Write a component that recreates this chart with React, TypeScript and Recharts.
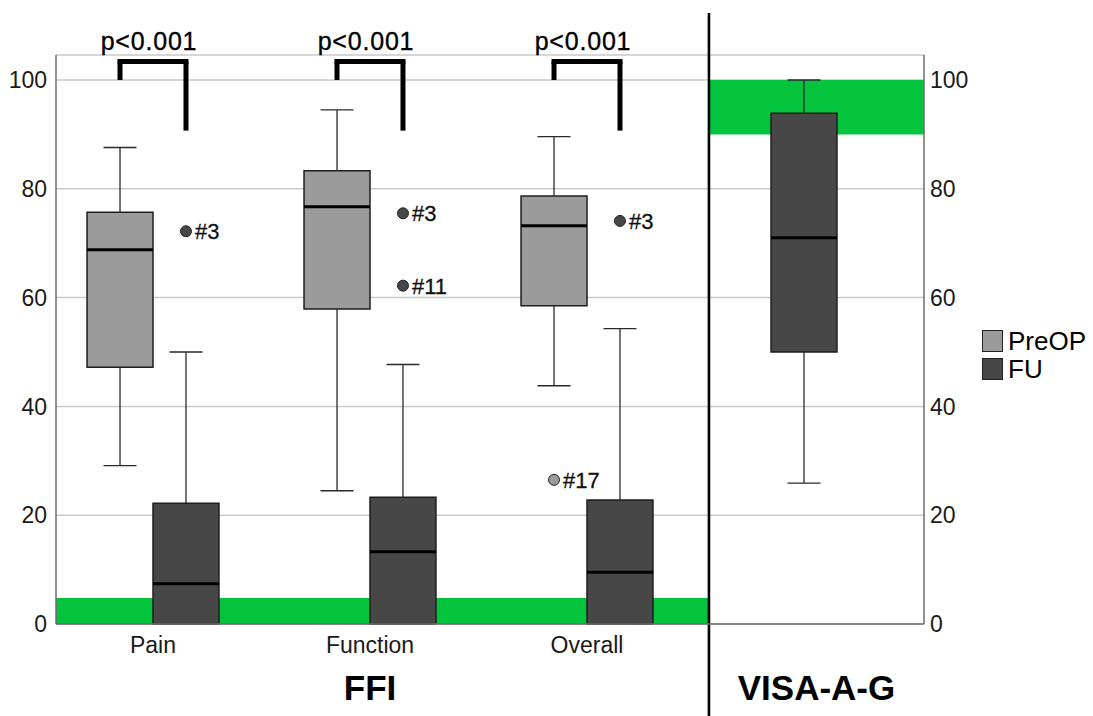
import React from 'react';
import {
  ComposedChart,
  XAxis,
  YAxis,
  CartesianGrid,
  ReferenceArea,
  ReferenceLine,
  ReferenceDot,
  Scatter,
} from 'recharts';

// ---------------- data ----------------
const categories = ['Pain', 'Function', 'Overall', 'VISA-A-G'];
const tickLabels = ['Pain', 'Function', 'Overall', ''];
const panelTitles = ['FFI', 'VISA-A-G'];
const seriesNames = ['PreOP', 'FU'];

// PreOP box statistics (no PreOP box for VISA-A-G)
const preMin = [29.1, 24.5, 43.8, null];
const preQ1 = [47.2, 57.9, 58.5, null];
const preMedian = [68.8, 76.7, 73.2, null];
const preQ3 = [75.7, 83.3, 78.7, null];
const preMax = [87.6, 94.5, 89.6, null];

// FU box statistics
const fuMin = [0, 0, 0, 25.9];
const fuQ1 = [0, 0, 0, 50.0];
const fuMedian = [7.4, 13.3, 9.5, 71.0];
const fuQ3 = [22.2, 23.3, 22.8, 93.9];
const fuMax = [50.0, 47.7, 54.3, 100];

// outliers
const outlierCategory = ['Pain', 'Function', 'Function', 'Overall', 'Overall'];
const outlierSeries = ['FU', 'FU', 'FU', 'FU', 'PreOP'];
const outlierValue = [72.2, 75.5, 62.2, 74.1, 26.5];
const outlierLabel = ['#3', '#3', '#11', '#3', '#17'];

// significance annotations (FFI categories)
const pCategories = ['Pain', 'Function', 'Overall'];
const pValues = ['p<0.001', 'p<0.001', 'p<0.001'];

// reference (green) ranges
const ffiRange = [0, 4.8];
const visaRange = [90, 100];

const yTicks = [0, 20, 40, 60, 80, 100];

// ---------------- layout / style ----------------
const FONT = '"Liberation Sans", Arial, Helvetica, sans-serif';
const X_DOMAIN: [number, number] = [0.553, 4.553];
const Y_DOMAIN: [number, number] = [0, 104.6];
const PANEL_SPLIT = 3.562;
const HALF = 0.152; // half box width in x units
const PRE_FILL = '#9b9b9b';
const FU_FILL = '#474747';
const GREEN = '#03c43c';
const EDGE = '#1e1e1e';
const BRACKET_TOP = 103.4;
const BRACKET_LEFT_BOTTOM = 100;
const BRACKET_RIGHT_BOTTOM = 90.7;
const P_TEXT_Y = 105.6;
const TITLE_Y = -13.9;

function catX(cat: string) {
  return categories.indexOf(cat) + 1;
}
function seriesX(cat: string, series: string) {
  const i = categories.indexOf(cat);
  const x = i + 1;
  const hasPre = preMedian[i] != null;
  if (!hasPre) return x;
  return series === 'PreOP' ? x - HALF : x + HALF;
}

function whiskers(key: string, cx: number, min: number, q1: number, q3: number, max: number) {
  const els: any[] = [];
  const ws = { stroke: '#2a2a2a', strokeWidth: 1.3 };
  if (max > q3) {
    els.push(<ReferenceLine key={key + 'wu'} segment={[{ x: cx, y: q3 }, { x: cx, y: max }]} {...ws} />);
    els.push(<ReferenceLine key={key + 'cu'} segment={[{ x: cx - HALF / 2, y: max }, { x: cx + HALF / 2, y: max }]} {...ws} />);
  }
  if (q1 > min) {
    els.push(<ReferenceLine key={key + 'wl'} segment={[{ x: cx, y: min }, { x: cx, y: q1 }]} {...ws} />);
    els.push(<ReferenceLine key={key + 'cl'} segment={[{ x: cx - HALF / 2, y: min }, { x: cx + HALF / 2, y: min }]} {...ws} />);
  }
  return els;
}

function boxRect(key: string, cx: number, q1: number, q3: number, fill: string) {
  return (
    <ReferenceArea
      key={key + 'box'}
      x1={cx - HALF}
      x2={cx + HALF}
      y1={q1}
      y2={q3}
      fill={fill}
      fillOpacity={1}
      stroke={EDGE}
      strokeWidth={1.5}
    />
  );
}

function medianLine(key: string, cx: number, med: number) {
  return (
    <ReferenceLine
      key={key + 'med'}
      segment={[{ x: cx - HALF, y: med }, { x: cx + HALF, y: med }]}
      stroke="#000"
      strokeWidth={3}
    />
  );
}

const outlierData = outlierCategory.map((c, i) => ({
  x: seriesX(c, outlierSeries[i]),
  y: outlierValue[i],
  label: outlierLabel[i],
  series: outlierSeries[i],
}));

const OutlierShape = (props: any) => {
  const { cx, cy, payload } = props;
  const fill = payload.series === 'PreOP' ? PRE_FILL : FU_FILL;
  return (
    <g>
      <circle cx={cx} cy={cy} r={5.5} fill={fill} stroke="#222" strokeWidth={1} />
      <text x={cx + 9} y={cy} dy="0.36em" fontSize={22} fontFamily={FONT} fill="#111" stroke="#111" strokeWidth={0.3}>
        {payload.label}
      </text>
    </g>
  );
};

export default function App() {
  const whiskerEls: any[] = [];
  const boxEls: any[] = [];
  const medianEls: any[] = [];
  categories.forEach((cat, i) => {
    if (preMedian[i] != null) {
      const cx = seriesX(cat, 'PreOP');
      whiskerEls.push(...whiskers('pre' + i, cx, preMin[i] as number, preQ1[i] as number, preQ3[i] as number, preMax[i] as number));
      boxEls.push(boxRect('pre' + i, cx, preQ1[i] as number, preQ3[i] as number, PRE_FILL));
      medianEls.push(medianLine('pre' + i, cx, preMedian[i] as number));
    }
    const fx = seriesX(cat, 'FU');
    whiskerEls.push(...whiskers('fu' + i, fx, fuMin[i], fuQ1[i], fuQ3[i], fuMax[i]));
    boxEls.push(boxRect('fu' + i, fx, fuQ1[i], fuQ3[i], FU_FILL));
    medianEls.push(medianLine('fu' + i, fx, fuMedian[i]));
  });

  const bracketEls: any[] = [];
  pCategories.forEach((cat, i) => {
    const lx = seriesX(cat, 'PreOP');
    const rx = seriesX(cat, 'FU');
    const bs = { stroke: '#000', strokeWidth: 5 };
    bracketEls.push(<ReferenceLine key={'bl' + i} segment={[{ x: lx, y: BRACKET_LEFT_BOTTOM }, { x: lx, y: BRACKET_TOP }]} {...bs} />);
    bracketEls.push(<ReferenceLine key={'br' + i} segment={[{ x: rx, y: BRACKET_RIGHT_BOTTOM }, { x: rx, y: BRACKET_TOP }]} {...bs} />);
    bracketEls.push(
      <ReferenceLine key={'bt' + i} segment={[{ x: lx, y: BRACKET_TOP }, { x: rx, y: BRACKET_TOP }]} {...bs} strokeLinecap="square" />
    );
    bracketEls.push(
      <ReferenceDot
        key={'pt' + i}
        x={catX(cat)}
        y={P_TEXT_Y}
        r={0}
        ifOverflow="visible"
        shape={(p: any) => (
          <text x={p.cx - 4} y={p.cy} textAnchor="middle" fontSize={25} letterSpacing={0.8} fontFamily={FONT} fill="#000" stroke="#000" strokeWidth={0.35}>
            {pValues[i]}
          </text>
        )}
      />
    );
  });

  const panelCenters = [2, (PANEL_SPLIT + X_DOMAIN[1]) / 2];
  const titleEls = panelTitles.map((t, i) => (
    <ReferenceDot
      key={'title' + i}
      x={panelCenters[i]}
      y={TITLE_Y}
      r={0}
      ifOverflow="visible"
      shape={(p: any) => (
        <text x={p.cx} y={p.cy} textAnchor="middle" fontSize={35} fontWeight="bold" fontFamily={FONT} fill="#000">
          {t}
        </text>
      )}
    />
  ));

  return (
    <div style={{ position: 'absolute', left: 0, top: 0, width: 1093, height: 716, background: '#fff', fontFamily: FONT }}>
      <ComposedChart width={1093} height={716} margin={{ top: 55, right: 109, bottom: 0, left: 0 }}>
        <CartesianGrid vertical={false} stroke="#c9c9c9" strokeWidth={1.5} />
        <XAxis
          xAxisId={0}
          type="number"
          dataKey="x"
          domain={X_DOMAIN}
          allowDataOverflow
          ticks={[1, 2, 3]}
          interval={0}
          tickFormatter={(v: number) => tickLabels[Math.round(v) - 1]}
          height={92}
          tickSize={0}
          tickMargin={13}
          axisLine={{ stroke: '#6e6e6e', strokeWidth: 1.5 }}
          tick={{ fontSize: 23, fill: '#1a1a1a', fontFamily: FONT }}
        />
        <YAxis
          yAxisId={0}
          dataKey="y"
          type="number"
          domain={Y_DOMAIN}
          allowDataOverflow
          ticks={yTicks}
          interval={0}
          width={56}
          tickSize={0}
          tickMargin={9}
          axisLine={{ stroke: '#6e6e6e', strokeWidth: 1.5 }}
          tickLine={false}
          tick={{ fontSize: 23, fill: '#1a1a1a', fontFamily: FONT }}
        />
        <YAxis
          yAxisId="right"
          orientation="right"
          type="number"
          domain={Y_DOMAIN}
          allowDataOverflow
          ticks={yTicks}
          interval={0}
          width={60}
          tickSize={0}
          tickMargin={6}
          axisLine={{ stroke: '#6e6e6e', strokeWidth: 1.5 }}
          tickLine={false}
          tick={{ fontSize: 23, fill: '#1a1a1a', fontFamily: FONT }}
        />

        <ReferenceArea x1={X_DOMAIN[0]} x2={PANEL_SPLIT} y1={ffiRange[0]} y2={ffiRange[1]} fill={GREEN} fillOpacity={1} stroke="none" />
        <ReferenceArea x1={PANEL_SPLIT} x2={X_DOMAIN[1]} y1={visaRange[0]} y2={visaRange[1]} fill={GREEN} fillOpacity={1} stroke="none" />

        {whiskerEls}
        {boxEls}
        {medianEls}
        {bracketEls}
        {titleEls}

        <ReferenceLine
          segment={[{ x: PANEL_SPLIT, y: 112.3 }, { x: PANEL_SPLIT, y: -17 }]}
          ifOverflow="visible"
          stroke="#000"
          strokeWidth={2.6}
        />

        <Scatter
          name="outliers"
          data={outlierData}
          dataKey="y"
          isAnimationActive={false}
          shape={OutlierShape}
        />
      </ComposedChart>

      <div style={{ position: 'absolute', left: 982, top: 327, fontFamily: FONT }}>
        {seriesNames.map((s, i) => (
          <div key={s} style={{ display: 'flex', alignItems: 'center', height: 28 }}>
            <div
              style={{
                width: 19,
                height: 20,
                background: i === 0 ? PRE_FILL : FU_FILL,
                border: '1.5px solid #222',
                marginRight: 5,
              }}
            />
            <span style={{ fontSize: 26, color: '#000', lineHeight: '28px' }}>{s}</span>
          </div>
        ))}
      </div>
    </div>
  );
}
